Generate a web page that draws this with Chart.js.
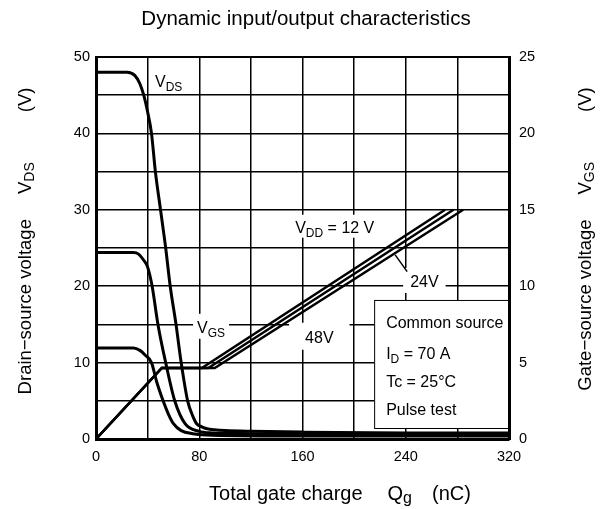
<!DOCTYPE html>
<html>
<head>
<meta charset="utf-8">
<script src="https://cdn.jsdelivr.net/npm/chart.js@4/dist/chart.umd.min.js"></script>
<style>
  html, body { margin: 0; padding: 0; background: #fff; }
  #wrap { width: 606px; height: 509px; }
</style>
</head>
<body>
<div id="wrap"><canvas id="c"></canvas></div>
<script>
// drain-source voltage curves (left axis, V) vs gate charge (nC)
const vds48Q = [0, 24, 30, 34, 37, 40, 43, 46, 50, 54, 57.5, 62, 66, 71, 75, 78, 82, 86, 92, 100, 120, 160, 240, 320]
const vds48V = [48, 48, 47.6, 46.5, 45, 42.8, 40, 35, 30, 25, 20, 15, 10, 5, 3, 2, 1.6, 1.35, 1.2, 1.1, 1.0, 0.9, 0.8, 0.8]
const vds24Q = [0, 29, 33, 37, 40, 43.5, 48, 54, 61, 69, 80, 90, 120, 200, 320]
const vds24V = [24.4, 24.4, 24.2, 23.4, 22.5, 20, 15, 10, 5, 2, 1.0, 0.8, 0.7, 0.6, 0.6]
const vds12Q = [0, 29, 34, 38, 43, 47, 52, 56, 60, 66, 75, 90, 160, 320]
const vds12V = [11.9, 11.9, 11.6, 11, 10, 7.5, 5, 3.3, 2, 1.1, 0.7, 0.5, 0.4, 0.4]

// gate-source voltage (right axis, V)
const vgs12Q = [0, 51, 82, 270.5]
const vgs24Q = [0, 51, 87, 277]
const vgs48Q = [0, 51, 92, 284.5]
const vgsV = [0, 4.65, 4.65, 15]

const xTicks = [0, 80, 160, 240, 320]
const yLeftTicks = [0, 10, 20, 30, 40, 50]
const yRightTicks = [0, 5, 10, 15, 20, 25]

const FONT = "'Liberation Sans', Arial, sans-serif"

function pts(qs, vs) {
  return qs.map((q, i) => ({x: q, y: vs[i]}))
}

function vdsSet(qs, vs) {
  return {
    data: pts(qs, vs),
    yAxisID: 'y',
    borderColor: '#000',
    borderWidth: 3,
    pointRadius: 0,
    fill: false,
    cubicInterpolationMode: 'monotone'
  }
}

function vgsSet(qs) {
  return {
    data: pts(qs, vgsV),
    yAxisID: 'y1',
    borderColor: '#000',
    borderWidth: 2.5,
    pointRadius: 0,
    fill: false,
    tension: 0
  }
}

// text runs, some of them subscripts
function runsWidth(ctx, runs, size) {
  let w = 0
  runs.forEach(r => {
    ctx.font = (r.sub ? Math.round(size * 0.78) : size) + 'px ' + FONT
    w += ctx.measureText(r.t).width
  })
  return w
}

function drawRuns(ctx, runs, x, y, size) {
  runs.forEach(r => {
    let s = r.sub ? Math.round(size * 0.78) : size
    ctx.font = s + 'px ' + FONT
    ctx.fillText(r.t, x, r.sub ? y + size * 0.25 : y)
    x += ctx.measureText(r.t).width
  })
}

// axis title laid out as groups separated by gaps, centred at (cx, cy)
function drawTitle(ctx, groups, gaps, cx, cy, size, rot) {
  let widths = groups.map(g => runsWidth(ctx, g, size))
  let total = widths.reduce((a, b) => a + b, 0) + gaps.reduce((a, b) => a + b, 0)
  ctx.save()
  ctx.translate(cx, cy)
  ctx.rotate(rot)
  ctx.textBaseline = 'middle'
  ctx.fillStyle = '#000'
  let x = -total / 2
  groups.forEach((g, i) => {
    drawRuns(ctx, g, x, 0, size)
    x += widths[i] + (gaps[i] || 0)
  })
  ctx.restore()
}

function label(ctx, chart, runs, q, v, size, bg) {
  let xs = chart.scales.x, ys = chart.scales.y
  let px = xs.getPixelForValue(q), py = ys.getPixelForValue(v)
  ctx.textBaseline = 'alphabetic'
  let w = runsWidth(ctx, runs, size)
  if (bg) {
    ctx.fillStyle = '#fff'
    ctx.fillRect(px - bg[0], py - size - bg[1], w + bg[0] * 2, size + bg[1] * 2 + 3)
  }
  ctx.fillStyle = '#000'
  drawRuns(ctx, runs, px, py, size)
}

const notes = {
  id: 'notes',
  afterDatasetsDraw(chart) {
    let ctx = chart.ctx
    let xs = chart.scales.x, ys = chart.scales.y
    ctx.save()

    label(ctx, chart, [{t: 'V'}, {t: 'DS', sub: true}], 45.7, 46.1, 16)
    label(ctx, chart, [{t: 'V'}, {t: 'GS', sub: true}], 78.3, 13.9, 16, [4, 3])
    label(ctx, chart, [{t: 'V'}, {t: 'DD', sub: true}, {t: ' = 12 V'}], 154.3, 27, 16, [3, 2])
    label(ctx, chart, [{t: '24V'}], 243.4, 19.9, 16, [7, 3])
    label(ctx, chart, [{t: '48V'}], 162, 12.6, 16, [16, 4])

    // leader line to the 24 V curve
    ctx.strokeStyle = '#000'
    ctx.lineWidth = 1.5
    ctx.beginPath()
    ctx.moveTo(xs.getPixelForValue(231.8), ys.getPixelForValue(24.1))
    ctx.lineTo(xs.getPixelForValue(241.1), ys.getPixelForValue(21.9))
    ctx.stroke()

    // conditions box
    let bx = xs.getPixelForValue(215.5), by = ys.getPixelForValue(18.2)
    let bw = xs.getPixelForValue(320) - bx, bh = ys.getPixelForValue(1.44) - by
    ctx.fillStyle = '#fff'
    ctx.fillRect(bx, by, bw, bh)
    ctx.lineWidth = 1
    ctx.strokeRect(bx + 0.5, by + 0.5, bw, bh)

    label(ctx, chart, [{t: 'Common source'}], 224.8, 14.5, 16)
    label(ctx, chart, [{t: 'I'}, {t: 'D', sub: true}, {t: ' = 70 A'}], 224.8, 10.5, 16)
    label(ctx, chart, [{t: 'Tc = 25°C'}], 224.8, 6.8, 16)
    label(ctx, chart, [{t: 'Pulse test'}], 224.8, 3.1, 16)

    // frame
    let a = chart.chartArea
    ctx.lineWidth = 2
    ctx.strokeRect(a.left, a.top, a.right - a.left, a.bottom - a.top)
    ctx.restore()
  },
  afterDraw(chart) {
    let ctx = chart.ctx
    ctx.save()
    ctx.fillStyle = '#000'
    ctx.font = '20.5px ' + FONT
    ctx.textAlign = 'center'
    ctx.textBaseline = 'middle'
    ctx.fillText('Dynamic input/output characteristics', 306, 19)
    ctx.textAlign = 'left'

    drawTitle(ctx, [[{t: 'Drain\u2212source voltage'}], [{t: 'V'}, {t: 'DS', sub: true}], [{t: '(V)'}]],
      [25, 50], 26, 241, 18.5, -Math.PI / 2)
    drawTitle(ctx, [[{t: 'Gate\u2212source voltage'}], [{t: 'V'}, {t: 'GS', sub: true}], [{t: '(V)'}]],
      [25, 50], 586, 239, 18.5, -Math.PI / 2)
    drawTitle(ctx, [[{t: 'Total gate charge'}], [{t: 'Q'}, {t: 'g', sub: true}], [{t: '(nC)'}]],
      [25, 20], 340, 494, 20, 0)
    ctx.restore()
  }
}

const grid = { color: '#000', lineWidth: 1.5, drawTicks: false }
const tickFont = { family: FONT, size: 14.5 }

new Chart(document.getElementById('c'), {
  type: 'line',
  data: {
    datasets: [
      vdsSet(vds48Q, vds48V),
      vdsSet(vds24Q, vds24V),
      vdsSet(vds12Q, vds12V),
      vgsSet(vgs12Q),
      vgsSet(vgs24Q),
      vgsSet(vgs48Q)
    ]
  },
  options: {
    responsive: true,
    maintainAspectRatio: false,
    animation: false,
    layout: { padding: { top: 57 } },
    plugins: { legend: { display: false }, tooltip: { enabled: false } },
    scales: {
      x: {
        type: 'linear', min: 0, max: 320,
        grid,
        border: { color: '#000', width: 3 },
        afterFit: s => { s.height = 70 },
        afterBuildTicks: s => {
          s.ticks = [0, 40, 80, 120, 160, 200, 240, 280, 320].map(v => ({value: v}))
        },
        ticks: {
          color: '#000', font: tickFont, padding: 9, maxRotation: 0, autoSkip: false,
          callback: v => xTicks.includes(v) ? String(v) : ''
        }
      },
      y: {
        position: 'left', min: 0, max: 50,
        grid,
        border: { color: '#000', width: 3 },
        afterFit: s => { s.width = 96 },
        ticks: {
          color: '#000', font: tickFont, padding: 6, stepSize: 5, autoSkip: false,
          callback: v => yLeftTicks.includes(v) ? String(v) : ''
        }
      },
      y1: {
        position: 'right', min: 0, max: 25,
        grid: { display: false, drawTicks: false },
        border: { color: '#000', width: 3 },
        afterFit: s => { s.width = 97 },
        ticks: {
          color: '#000', font: tickFont, padding: 10, stepSize: 5,
          callback: v => yRightTicks.includes(v) ? String(v) : ''
        }
      }
    }
  },
  plugins: [notes]
})
</script>
</body>
</html>
